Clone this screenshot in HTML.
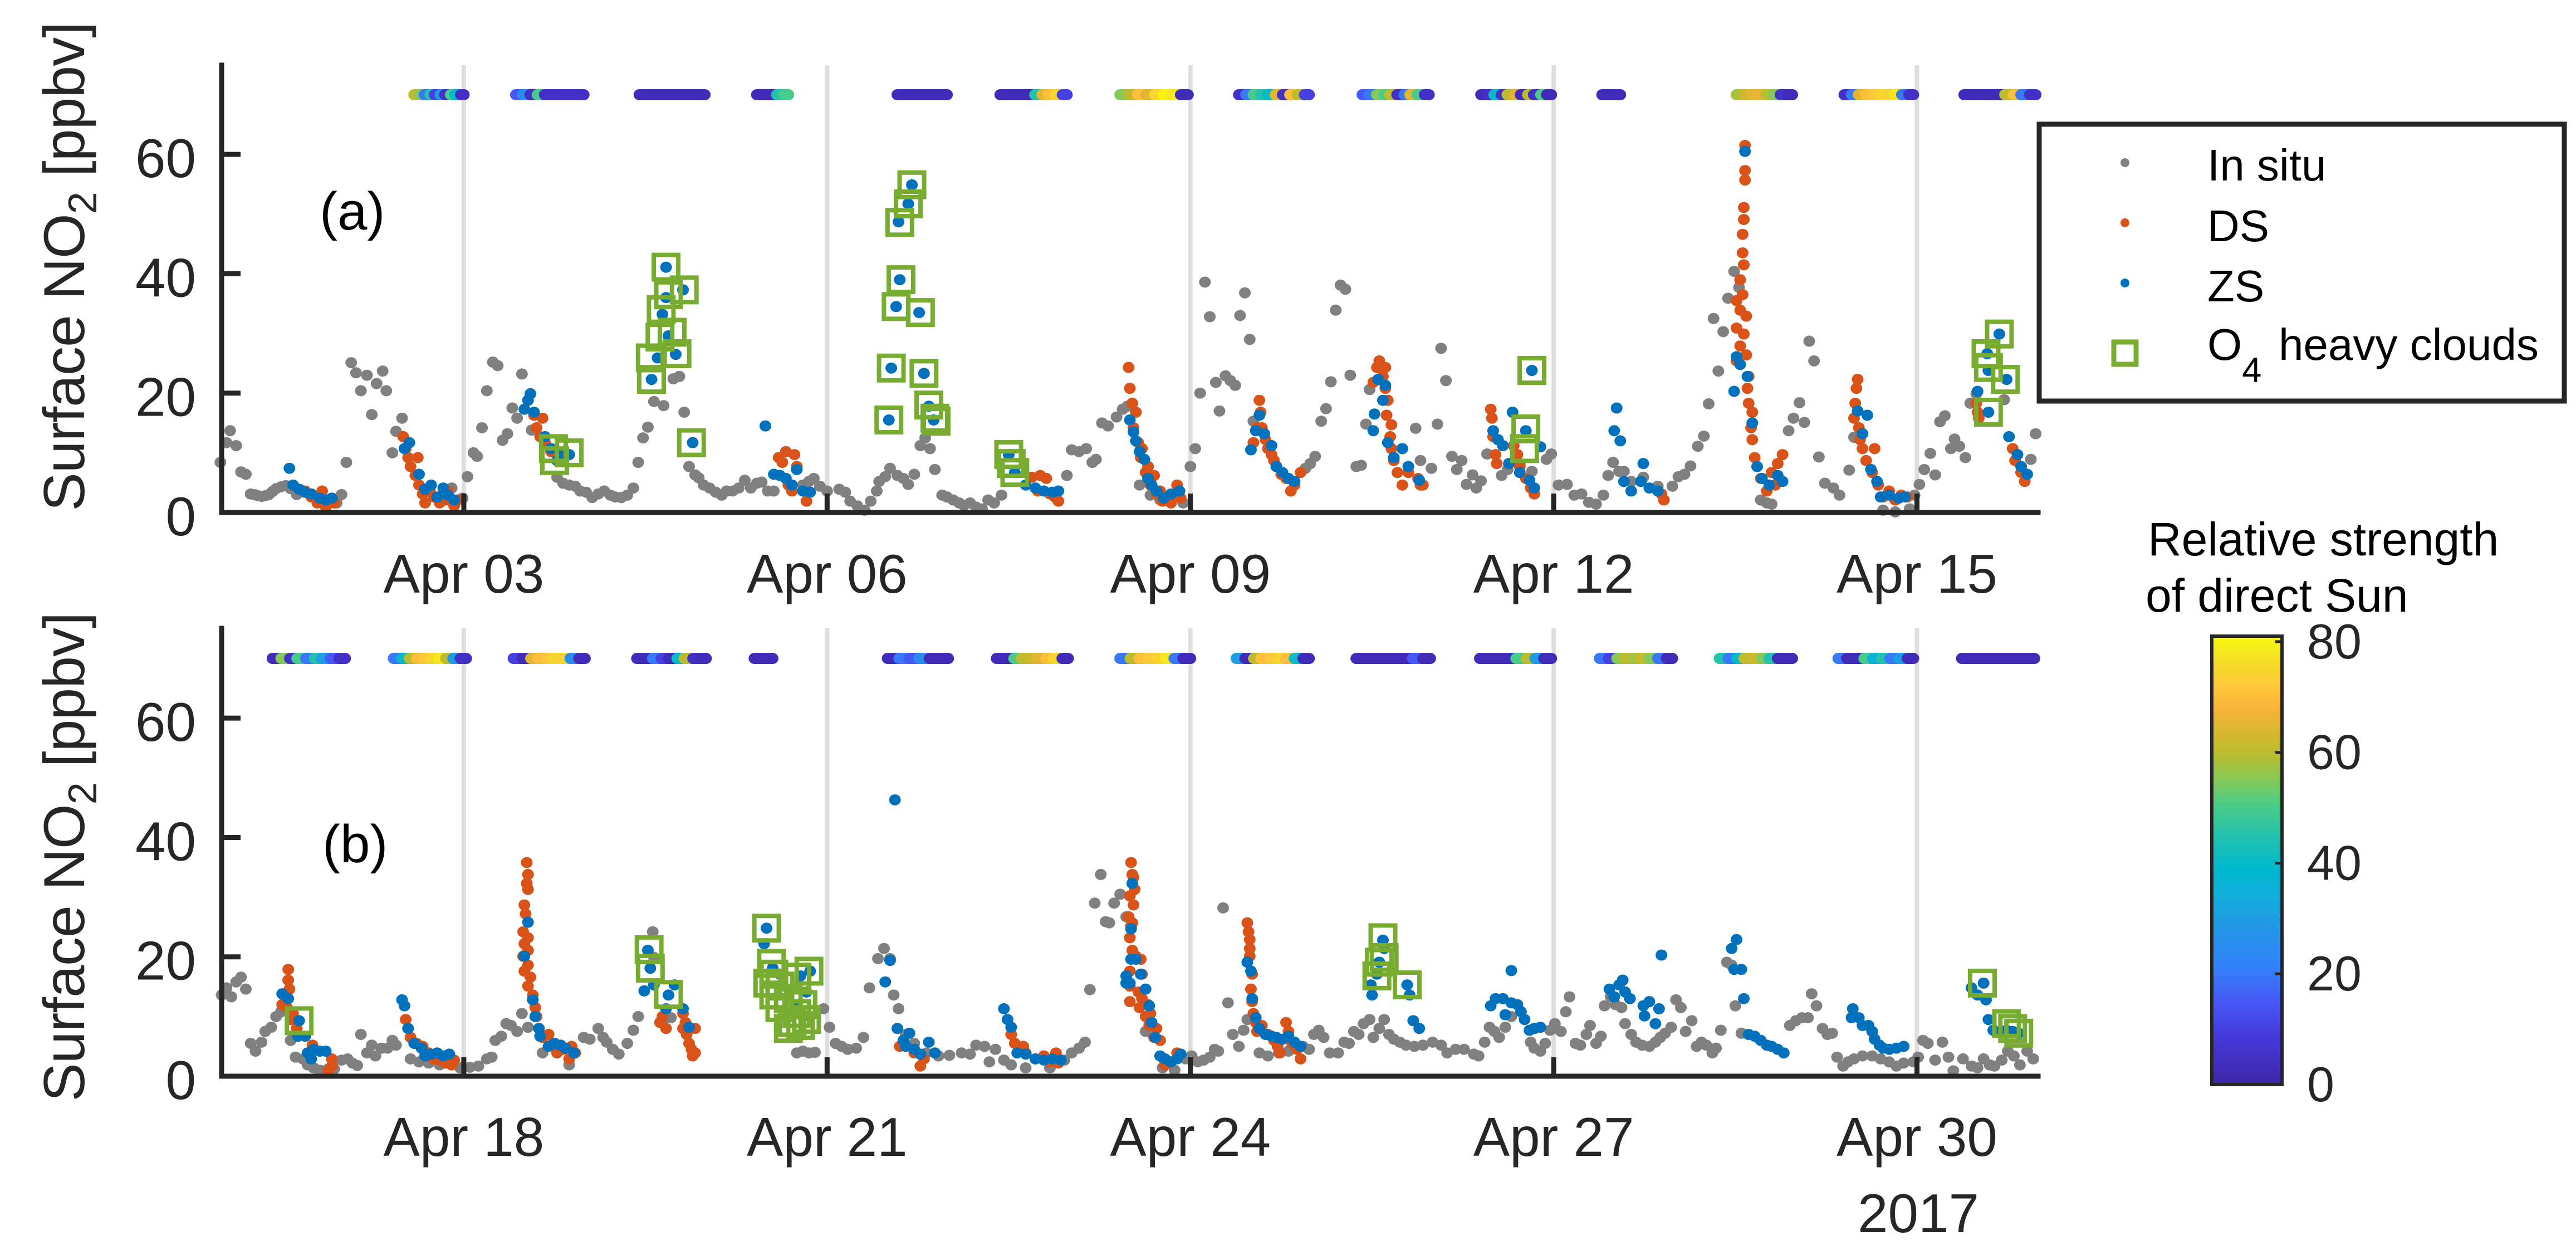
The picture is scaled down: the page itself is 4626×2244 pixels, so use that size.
<!DOCTYPE html>
<html><head><meta charset="utf-8"><style>
html,body{margin:0;padding:0;background:#fff;}
svg{display:block;font-family:"Liberation Sans",Arial,sans-serif;}
</style></head><body>
<svg id="chart" xmlns="http://www.w3.org/2000/svg" width="4626" height="2244" viewBox="0 0 4626 2244">
<rect width="4626" height="2244" fill="#fff"/>
<g id="gridA"></g>
<g id="gridB"></g>
<g id="marksA"></g>
<g id="marksB"></g>
<g id="axesA"></g>
<g id="axesB"></g>
<text transform="translate(151,40) rotate(-90)" text-anchor="end" font-size="104" letter-spacing="-1" fill="#262626">Surface NO<tspan font-size="72" dy="22">2</tspan><tspan dy="-22"> [ppbv]</tspan></text>
<text transform="translate(151,1100) rotate(-90)" text-anchor="end" font-size="104" letter-spacing="-1" fill="#262626">Surface NO<tspan font-size="72" dy="22">2</tspan><tspan dy="-22"> [ppbv]</tspan></text>
<text x="574" y="412" font-size="96" fill="#000">(a)</text>
<text x="579" y="1548" font-size="96" fill="#000">(b)</text>
<text x="3445" y="2212" text-anchor="middle" font-size="98" fill="#262626">2017</text>
<g>
<rect x="3662" y="223" width="943" height="497" fill="#fff" stroke="#262626" stroke-width="9"/>
<circle cx="3816" cy="292" r="8" fill="#808080"/>
<text x="3964" y="324" font-size="80" fill="#000">In situ</text>
<circle cx="3816" cy="400" r="8" fill="#D95319"/>
<text x="3964" y="433" font-size="80" fill="#000">DS</text>
<circle cx="3816" cy="508" r="8" fill="#0072BD"/>
<text x="3964" y="541" font-size="80" fill="#000">ZS</text>
<rect x="3796" y="614" width="40" height="40" fill="none" stroke="#77AC30" stroke-width="9"/>
<text x="3964" y="646" font-size="80" fill="#000">O<tspan font-size="63" dy="40">4</tspan><tspan x="4092" dy="-40">heavy clouds</tspan></text>
</g>
<text x="3857" y="997" font-size="84" fill="#000">Relative strength</text>
<text x="3853" y="1098" font-size="84" fill="#000">of direct Sun</text>
<defs><linearGradient id="parula" x1="0" y1="1" x2="0" y2="0"></linearGradient></defs>
<g id="cbar"></g>
</svg>
<script>
// ---------- data ----------
const topTicks = ["Apr 03","Apr 06","Apr 09","Apr 12","Apr 15"];
const topTickDays = [3,6,9,12,15];
const botTicks = ["Apr 18","Apr 21","Apr 24","Apr 27","Apr 30"];
const botTickDays = [18,21,24,27,30];
const yTicks = [0,20,40,60];
const cbTicks = [0,20,40,60,80];

const inSituTop = [[0.99,8.4],[1.04,11.7],[1.07,13.7],[1.12,11.2],[1.16,6.8],[1.2,6.4],[1.24,3.1],[1.27,3],[1.3,2.8],[1.33,2.7],[1.36,2.8],[1.39,3],[1.42,3.5],[1.45,4],[1.49,4.3],[1.53,4.5],[1.57,4],[1.62,3],[1.95,1.6],[1.99,3],[2.03,8.4],[2.07,25.1],[2.11,23.4],[2.15,20.4],[2.2,23],[2.24,16.4],[2.28,21.6],[2.33,23.7],[2.36,20.4],[2.41,10],[2.44,13.6],[2.49,15.8],[2.9,4.1],[2.99,2.4],[3.03,6],[3.08,10],[3.11,9.4],[3.15,14.2],[3.19,20.4],[3.24,25.2],[3.28,24.6],[3.32,12.1],[3.36,13.2],[3.4,17.5],[3.44,15.8],[3.48,23.2],[3.56,13.8],[3.77,5.9],[3.82,4.9],[3.87,4.6],[3.92,4.4],[3.96,3.6],[4.01,3.4],[4.06,2.5],[4.11,3.1],[4.16,3.6],[4.21,2.9],[4.25,2.6],[4.3,2.5],[4.35,2.9],[4.4,4.1],[4.44,8.4],[4.48,12.5],[4.52,14.3],[4.57,18.6],[4.65,17.9],[4.73,22.4],[4.78,22.8],[4.82,16.8],[4.86,7.7],[4.91,6.3],[4.94,5.8],[4.98,4.6],[5.03,4.1],[5.08,3.4],[5.13,2.9],[5.17,3.6],[5.22,3.6],[5.27,4.1],[5.32,5.4],[5.37,4.1],[5.42,4.9],[5.46,5.1],[5.51,3.6],[5.56,3.6],[5.8,4.6],[5.85,5.2],[5.89,5.7],[5.94,4.4],[6.0,3.6],[6.1,3.9],[6.15,3.4],[6.19,1.9],[6.25,1.1],[6.31,0.4],[6.36,1.9],[6.41,3.6],[6.43,5.2],[6.48,6],[6.52,7.4],[6.58,6.2],[6.63,5.7],[6.67,4.7],[6.72,6.4],[6.77,11.2],[6.81,12.5],[6.85,10.7],[6.89,7.2],[6.95,2.9],[6.99,2.6],[7.04,2.1],[7.09,1.6],[7.13,1.2],[7.18,1.6],[7.23,0.9],[7.28,0.6],[7.33,2.1],[7.38,1.6],[7.44,2.9],[7.98,6.2],[8.02,10.5],[8.08,10.2],[8.14,10.7],[8.19,8.4],[8.22,8.9],[8.27,15],[8.32,14.5],[8.39,16],[8.44,17.3],[8.48,17.8],[8.58,4.6],[8.67,2.9],[8.75,2.1],[8.94,1.6],[9.0,7.7],[9.04,10.7],[9.08,20],[9.12,38.6],[9.16,32.8],[9.21,21.8],[9.24,17],[9.29,22.9],[9.33,22.1],[9.37,21.3],[9.41,33],[9.45,36.8],[9.49,29],[9.52,15.3],[9.95,7.4],[9.99,8.2],[10.03,9.4],[10.08,15.3],[10.12,17.4],[10.16,21.9],[10.2,33.9],[10.24,38.1],[10.28,37.4],[10.32,23],[10.37,7.7],[10.41,7.9],[10.45,14.8],[10.48,20.6],[10.86,14.1],[10.9,8.7],[10.99,7.4],[11.04,14.8],[11.07,27.5],[11.11,22.1],[11.16,9.4],[11.2,7.2],[11.24,8.7],[11.28,4.7],[11.33,6.3],[11.36,4.1],[11.4,5.3],[11.45,9.8],[11.57,6.2],[11.62,7.2],[11.72,8.2],[11.82,6.9],[11.94,8.9],[11.98,9.8],[12.04,4.6],[12.11,4.7],[12.17,2.9],[12.23,3.1],[12.29,1.7],[12.35,1.4],[12.41,2.9],[12.45,6.2],[12.49,8.4],[12.54,6.9],[12.58,6.9],[12.64,5.2],[12.74,5.9],[12.86,4.4],[12.98,4.4],[13.03,6],[13.08,6.4],[13.13,7.8],[13.19,11.1],[13.24,12.8],[13.28,18.2],[13.32,32.5],[13.36,23.7],[13.4,30.3],[13.44,35.9],[13.49,40.4],[13.53,37.7],[13.71,2.1],[13.76,1.6],[13.8,1.4],[13.94,13.7],[13.98,15.8],[14.03,18.4],[14.07,15.1],[14.11,28.7],[14.15,25.4],[14.19,9.3],[14.24,4.9],[14.31,4.1],[14.36,2.9],[14.44,7.1],[14.48,12.6],[14.72,0.4],[14.82,0.1],[14.94,0.6],[14.98,2.9],[15.02,4.7],[15.06,7.2],[15.11,9.9],[15.15,6.3],[15.19,15.2],[15.23,16.2],[15.28,10.7],[15.31,12.3],[15.35,11.1],[15.4,9.2],[15.44,18.3],[15.49,19.9],[15.72,18.9],[15.94,8.9],[15.98,13.2]];

const dsTop = [[1.69,3.6],[1.74,2.6],[1.79,1.6],[1.83,3.6],[1.86,0.9],[1.91,2.1],[1.93,1.6],[2.5,12.7],[2.52,10.7],[2.54,9.2],[2.56,7.7],[2.6,6.2],[2.62,9.2],[2.63,4.6],[2.66,3.1],[2.68,1.6],[2.72,3.6],[2.75,2.6],[2.8,1.6],[2.85,2.1],[2.87,3.6],[2.92,1.1],[2.95,2.1],[3.58,16.3],[3.6,14.2],[3.63,12.7],[3.65,15.8],[3.67,11.7],[3.72,10.2],[5.6,9.2],[5.63,8.4],[5.66,10.2],[5.73,9.7],[5.68,4.6],[5.75,7.7],[5.8,3.6],[5.83,1.9],[5.71,3.6],[7.69,5.9],[7.76,6.2],[7.81,5.7],[7.84,3.1],[7.88,2.6],[7.91,1.9],[7.74,3.6],[8.49,24.3],[8.5,20.8],[8.52,18.3],[8.53,14.2],[8.55,16.8],[8.57,11.7],[8.59,9.2],[8.6,10.7],[8.63,6.7],[8.65,7.7],[8.67,4.6],[8.7,6.2],[8.72,3.1],[8.75,3.6],[8.77,1.9],[8.79,2.6],[8.84,1.6],[8.89,4.6],[8.92,2.4],[9.57,18.8],[9.58,16.8],[9.55,14.2],[9.52,11.7],[9.59,14.2],[9.62,12.2],[9.64,10.7],[9.67,9.7],[9.69,8.7],[9.71,7.7],[9.75,6.4],[9.79,5.7],[9.83,3.6],[9.86,4.6],[9.91,6.7],[10.54,24.3],[10.56,25.4],[10.61,24.3],[10.51,21.8],[10.59,22.8],[10.61,20.8],[10.63,18.8],[10.62,16.3],[10.66,14.7],[10.65,12.7],[10.66,10.7],[10.68,8.7],[10.71,6.7],[10.75,4.6],[10.8,6.7],[10.88,5.7],[10.9,4.6],[10.92,4.6],[11.48,17.3],[11.49,15.8],[11.5,12.7],[11.52,9.7],[11.53,8.2],[11.67,11.2],[11.7,9.7],[11.72,7.7],[11.77,5.7],[11.81,4.1],[11.84,3.1],[12.91,2.1],[12.89,3.1],[13.58,61.5],[13.58,57.3],[13.58,55.7],[13.57,51.1],[13.57,49.1],[13.56,46.6],[13.56,43.5],[13.57,41.5],[13.54,39],[13.56,36.5],[13.51,35.5],[13.54,33.9],[13.59,32.9],[13.51,30.9],[13.57,29.9],[13.54,27.9],[13.59,26.4],[13.51,25.4],[13.61,22.8],[13.6,20.8],[13.61,18.3],[13.64,16.8],[13.63,14.2],[13.64,12.2],[13.66,9.2],[13.71,5.7],[13.76,3.6],[13.8,6.7],[13.85,8.2],[13.89,9.7],[13.83,4.6],[14.51,22.3],[14.5,20.8],[14.49,18.3],[14.48,15.8],[14.52,14.2],[14.53,12.2],[14.55,10.7],[14.58,8.7],[14.63,6.7],[14.65,10.7],[14.68,4.6],[14.72,2.6],[14.77,3.6],[14.82,2.1],[14.87,2.9],[14.92,2.6],[15.5,16.8],[15.51,15.8],[15.49,18.3],[15.76,12.7],[15.79,10.7],[15.81,8.7],[15.86,6.7],[15.89,5.2]];

const zsTop = [[1.56,7.4],[1.59,4.6],[1.64,3.9],[1.69,3.4],[1.74,3.1],[1.81,2.4],[1.86,2.1],[1.91,2.4],[2.51,10.7],[2.55,11.7],[2.63,6.4],[2.68,3.9],[2.73,4.6],[2.78,2.6],[2.83,4.1],[2.87,2.9],[2.92,2.1],[3.5,17.3],[3.53,18.8],[3.55,19.9],[3.58,16.8],[3.67,12.7],[3.72,10.7],[3.77,8.7],[3.82,9.7],[3.87,9.7],[4.55,22.3],[4.6,25.9],[4.64,33.2],[4.69,29.6],[4.67,36],[4.81,37.3],[4.75,26.5],[4.67,41.1],[4.89,11.7],[5.49,14.5],[5.56,6.4],[5.61,6.2],[5.66,5.7],[5.71,4.6],[5.75,7.2],[5.8,3.6],[5.86,3.4],[6.51,15.5],[6.53,24.2],[6.57,34.5],[6.6,39],[6.59,48.7],[6.67,51.7],[6.7,54.9],[6.76,33.5],[6.8,23.3],[6.84,17.8],[6.88,15.5],[7.5,9.7],[7.55,6.7],[7.64,4.6],[7.72,4.1],[7.79,3.6],[7.86,3.4],[7.91,3.6],[8.5,15.5],[8.53,13.5],[8.55,12],[8.58,10.2],[8.62,8.9],[8.65,5.7],[8.68,4.6],[8.72,3.6],[8.78,2.4],[8.84,3.1],[8.91,3.6],[9.5,10.5],[9.54,13.7],[9.57,16.3],[9.61,13.2],[9.67,11.2],[9.71,7.7],[9.76,6.7],[9.81,5.7],[9.86,5.2],[10.51,13.7],[10.55,22.3],[10.59,18.8],[10.61,21.3],[10.52,16.5],[10.63,11.7],[10.68,9.2],[10.75,10.7],[10.8,7.7],[10.89,5.4],[11.5,13.7],[11.54,12.2],[11.58,11.2],[11.63,8.2],[11.66,16.8],[11.72,6.7],[11.77,13.7],[11.82,23.8],[11.89,11],[11.8,5.4],[11.84,4.1],[12.5,13.7],[12.52,17.5],[12.55,12],[12.58,5.2],[12.64,3.6],[12.72,5.2],[12.74,8.2],[12.79,4.1],[12.86,3.6],[13.58,60.5],[13.49,20.3],[13.51,26.1],[13.54,24.8],[13.6,22.8],[13.64,15],[13.68,7.7],[13.72,5.7],[13.78,4.6],[13.85,6.2],[13.89,5.2],[14.51,17],[14.59,16.3],[14.55,13.2],[14.62,7.2],[14.67,5.2],[14.7,2.6],[14.77,2.9],[14.85,2.4],[14.9,2.6],[15.5,20.3],[15.58,26.6],[15.68,29.9],[15.59,23.8],[15.74,22.3],[15.59,16.8],[15.76,12.7],[15.83,9.7],[15.86,7.7],[15.91,6.4]];

const o4Top = [[4.67,41.1],[4.82,37.3],[4.69,36.5],[4.63,34],[4.62,29.4],[4.72,30.2],[4.54,25.9],[4.76,26.6],[4.55,22.3],[4.88,11.7],[3.74,10.7],[3.87,10],[3.75,8.7],[6.7,54.9],[6.67,51.7],[6.6,48.6],[6.61,39],[6.57,34.5],[6.77,33.5],[6.53,24.2],[6.8,23.3],[6.84,18],[6.89,15.8],[6.51,15.5],[6.9,15.3],[7.5,9.7],[7.52,8.2],[7.55,6.7],[11.82,23.8],[11.77,14],[11.76,10.7],[15.68,29.9],[15.57,26.6],[15.59,24.3],[15.73,22.3],[15.59,16.8]];

const inSituBot = [[16,13.6],[16.04,14.8],[16.08,13.3],[16.12,15.8],[16.16,16.6],[16.2,14.6],[16.24,5.5],[16.28,4.2],[16.33,5.7],[16.36,7.5],[16.41,8.2],[16.45,10],[16.49,10.8],[16.57,6],[16.61,3.2],[16.67,2.9],[16.71,1.9],[16.76,1.4],[16.81,1],[16.88,1.2],[16.93,1.2],[16.99,2.7],[17.04,2.9],[17.08,2.2],[17.12,1.8],[17.15,7],[17.2,3.9],[17.24,5.2],[17.27,3.4],[17.32,4.7],[17.37,4.7],[17.41,6],[17.44,5.2],[17.56,2.9],[17.63,2.4],[17.71,2.2],[17.8,1.9],[17.9,1.9],[17.97,1.4],[18.05,1.5],[18.12,1.7],[18.19,2.9],[18.23,3.2],[18.26,6],[18.31,6.7],[18.35,8.8],[18.39,8.5],[18.44,7.5],[18.48,10.5],[18.53,8.2],[18.65,3.9],[18.87,1.9],[18.99,6.5],[19.04,6.2],[19.11,8],[19.15,6.5],[19.18,5.7],[19.23,4.5],[19.28,3.7],[19.35,5.5],[19.4,7.7],[19.44,10],[19.49,14.3],[19.56,24.2],[19.57,19.9],[19.64,9],[19.71,9.8],[20.75,3.9],[20.8,4.2],[20.85,3.9],[20.9,4],[20.97,11.3],[21.02,8.2],[21.07,5.5],[21.12,5],[21.17,4.5],[21.24,4.7],[21.3,6.5],[21.35,14.8],[21.42,19.7],[21.47,21.4],[21.52,19.7],[21.55,13.6],[21.59,11.3],[21.65,7],[21.72,5.5],[21.82,3.9],[21.92,3.4],[22.01,3.5],[22.11,3.9],[22.18,3.7],[22.23,5.2],[22.3,5],[22.34,2.4],[22.39,4.5],[22.46,2.7],[22.52,1.9],[22.64,1.4],[22.84,1.4],[22.96,2.7],[23.02,3.9],[23.08,4.7],[23.13,5.7],[23.17,14.5],[23.21,29],[23.26,33.8],[23.3,25.9],[23.33,25.7],[23.37,29],[23.42,30.5],[23.47,26.7],[23.63,7.5],[23.77,1.4],[23.87,1],[23.96,2.9],[24.01,3.4],[24.06,2.4],[24.11,2.7],[24.16,3.2],[24.2,4.5],[24.23,4.2],[24.27,28.2],[24.31,12.3],[24.35,7],[24.4,5],[24.44,7.7],[24.47,9.5],[24.57,3.9],[24.64,3.4],[24.73,3.9],[24.81,4.2],[24.93,5],[24.98,4.5],[25.02,7],[25.06,7.7],[25.1,6.5],[25.15,3.9],[25.22,3.9],[25.27,5.7],[25.31,5.5],[25.35,7.5],[25.39,7],[25.43,8.8],[25.48,9.5],[25.51,6.5],[25.56,8],[25.6,9.5],[25.64,7],[25.68,6.2],[25.73,5.7],[25.78,5.2],[25.85,5],[25.92,5.2],[26,5.7],[26.07,5.2],[26.12,3.9],[26.19,4.5],[26.26,4.5],[26.34,3.7],[26.38,3.4],[26.43,5.7],[26.47,8.2],[26.51,7.5],[26.55,6.5],[26.6,8.2],[26.65,10],[26.81,5.7],[26.84,4.7],[26.89,4.2],[26.93,5.5],[26.97,7.7],[27.01,8.8],[27.06,7.5],[27.1,10.8],[27.13,13.3],[27.18,5.5],[27.22,5.2],[27.27,7],[27.3,8.5],[27.35,5.5],[27.39,6.7],[27.42,11.8],[27.47,13.3],[27.51,12],[27.56,11.5],[27.59,8.8],[27.64,7],[27.68,5.7],[27.73,5.2],[27.79,5],[27.84,5.7],[27.88,6.5],[27.92,7.2],[27.97,8.2],[28.01,12.8],[28.05,11.5],[28.09,7.5],[28.14,9.3],[28.18,5],[28.22,5.7],[28.26,5.2],[28.31,3.9],[28.34,4.7],[28.38,7.7],[28.43,19.1],[28.47,18.6],[28.5,11.8],[28.55,7.2],[28.95,8.5],[29,9.3],[29.05,9.8],[29.1,9.8],[29.13,13.8],[29.17,11.8],[29.22,8],[29.26,7],[29.3,7.2],[29.34,3.2],[29.39,1.7],[29.43,2.4],[29.48,2.9],[29.55,3.4],[29.63,3.4],[29.7,2.9],[29.77,2.4],[29.83,1.7],[29.89,2.2],[29.97,2.4],[30.01,3.2],[30.05,6],[30.09,5.5],[30.15,2.7],[30.21,5.7],[30.26,3.2],[30.3,0.9],[30.38,2.9],[30.45,1.7],[30.5,1.4],[30.55,2.9],[30.6,1.9],[30.64,1.7],[30.7,2.7],[30.75,4.2],[30.8,3.4],[30.85,1.9],[30.91,4.2],[30.96,2.9]];

const dsBot = [[16.55,17.9],[16.55,16.1],[16.56,14.6],[16.53,13],[16.5,12],[16.54,11.5],[16.59,10.5],[16.57,9.5],[16.62,8],[16.75,5.2],[16.76,4.5],[16.91,2.9],[16.91,1.7],[16.88,0.9],[17.52,9.5],[17.54,8],[17.56,6.5],[17.61,5.5],[17.66,5],[17.71,3.9],[17.75,2.9],[17.8,2.7],[17.85,2.2],[17.9,1.9],[17.92,2.7],[18.52,35.8],[18.53,33.8],[18.52,32.3],[18.53,31.3],[18.5,28.7],[18.51,27.2],[18.49,24.2],[18.53,23.2],[18.5,22.2],[18.53,21.1],[18.49,20.1],[18.53,18.6],[18.5,17.6],[18.55,16.6],[18.53,15.1],[18.57,13.6],[18.59,11.5],[18.6,10],[18.62,8],[18.65,6.5],[18.7,7],[18.72,5.2],[18.77,3.9],[18.82,4.5],[18.87,2.9],[18.89,5],[18.92,3.9],[19.62,9],[19.64,10],[19.67,8],[19.81,10.5],[19.83,9],[19.81,8],[19.84,7],[19.86,5.5],[19.88,4.5],[19.91,8],[19.89,3.4],[19.91,3.9],[21.6,5],[21.72,3.9],[21.77,1.7],[21.8,2.9],[22.52,7],[22.55,5.5],[22.62,5],[22.64,3.9],[22.72,2.9],[22.79,3.4],[22.84,2.4],[22.89,3.9],[22.91,2.2],[23.51,35.8],[23.52,33.8],[23.5,30.2],[23.49,26.7],[23.51,25.2],[23.53,33.3],[23.54,31.3],[23.53,28.7],[23.52,25.7],[23.5,23.2],[23.52,21.1],[23.55,20.1],[23.59,19.6],[23.5,17.6],[23.6,17.1],[23.5,15.1],[23.57,14.1],[23.5,12.5],[23.6,13],[23.65,12],[23.58,11.5],[23.67,10.5],[23.63,10],[23.66,8.5],[23.72,8],[23.7,6.5],[23.75,6],[23.78,2.9],[23.79,1.9],[23.84,2.4],[23.89,3.9],[24.47,25.7],[24.48,24.2],[24.49,22.9],[24.49,21.4],[24.49,20.1],[24.51,17.1],[24.5,14.6],[24.51,12.5],[24.52,10.5],[24.54,9],[24.55,7.5],[24.59,8.5],[24.64,7],[24.69,6],[24.72,5],[24.74,3.9],[24.79,9],[24.81,7.5],[24.84,5.5],[24.88,4.5],[24.91,2.9]];

const zsBot = [[16.5,13.8],[16.55,13],[16.64,9.3],[16.63,6.7],[16.69,6.7],[16.71,3.9],[16.76,4.5],[16.81,4.2],[16.86,4.2],[16.74,2.9],[17.49,12.8],[17.51,11.8],[17.54,8],[17.59,5.5],[17.65,4.7],[17.68,3.4],[17.73,3.7],[17.78,3.9],[17.83,3.4],[17.88,3.7],[18.53,25.8],[18.5,20.1],[18.57,12.8],[18.59,10],[18.62,8],[18.63,6.7],[18.7,5],[18.75,5.5],[18.8,5.2],[18.84,4.7],[18.91,3.9],[19.52,21.1],[19.54,18.1],[19.49,14.3],[19.57,15.3],[19.69,13.6],[19.67,11.3],[19.74,15.3],[19.81,11.3],[19.86,8.2],[20.5,24.8],[20.48,22.2],[20.55,18.1],[20.61,17.1],[20.71,14.6],[20.78,16.8],[20.83,14.1],[20.86,17.6],[20.75,11.5],[20.8,10],[21.56,46.3],[21.48,15.8],[21.52,19.4],[21.58,8],[21.63,6],[21.68,7.2],[21.65,5],[21.72,4.5],[21.77,3.7],[21.84,5.7],[21.89,3.9],[22.46,11.3],[22.49,9.5],[22.52,8.2],[22.57,3.9],[22.64,3.7],[22.72,2.9],[22.79,2.7],[22.86,2.9],[22.93,2.7],[23.52,32.3],[23.51,24.7],[23.51,19.6],[23.47,16.8],[23.47,15.6],[23.55,19.6],[23.59,17.1],[23.5,15.6],[23.63,14.6],[23.66,11.8],[23.68,9],[23.71,6.5],[23.75,3.4],[23.79,2.9],[23.84,2.4],[23.89,2.9],[23.92,3.7],[24.47,19.1],[24.5,17.6],[24.51,13],[24.54,9.8],[24.57,8],[24.62,7],[24.67,6.7],[24.71,6.5],[24.76,6.2],[24.81,6.7],[24.86,5.7],[24.91,5],[25.59,22.8],[25.6,21.4],[25.56,19.1],[25.54,17.1],[25.5,13.6],[25.49,15.3],[25.79,15.3],[25.81,13.6],[25.84,9.3],[25.89,8],[26.48,11.8],[26.52,13],[26.58,13],[26.6,10.3],[26.65,17.7],[26.65,12.3],[26.7,12],[26.73,10.8],[26.76,9.5],[26.8,7.7],[26.84,8],[26.89,8.2],[27.46,14.6],[27.5,13.3],[27.54,15.3],[27.57,16.1],[27.59,14.1],[27.63,13],[27.74,11.8],[27.79,12.5],[27.75,10.1],[27.84,8.8],[27.87,11.3],[27.89,20.3],[28.47,21.4],[28.51,22.9],[28.49,17.9],[28.55,17.9],[28.57,13],[28.61,7],[28.66,6.7],[28.71,6],[28.76,5.2],[28.8,5],[28.85,4.5],[28.9,3.9],[29.47,11.3],[29.46,9.8],[29.52,9.8],[29.55,8.5],[29.6,8.5],[29.63,7.5],[29.65,6.2],[29.69,5.2],[29.72,4.7],[29.77,4.5],[29.83,4.7],[29.89,5],[30.45,14.8],[30.55,15.6],[30.5,13.6],[30.57,12.8],[30.59,9.5],[30.63,7.7],[30.69,7.5],[30.74,7.7],[30.79,7.5],[30.84,7.2]];

const o4Bot = [[16.64,9.3],[19.53,21.2],[19.54,18.1],[19.69,13.7],[20.5,24.8],[20.54,18.9],[20.56,17.1],[20.85,17.6],[20.51,15.6],[20.61,15.1],[20.75,16.6],[20.56,13.6],[20.68,13],[20.8,12],[20.61,11.5],[20.75,10.5],[20.83,9.5],[20.71,9],[20.68,8],[20.78,8.5],[25.59,23.2],[25.6,19.9],[25.56,19.1],[25.54,16.8],[25.79,15.3],[30.54,15.6],[30.74,8.8],[30.79,8],[30.84,7.2]];

// direct-sun strength strips: [startDay, endDay] and sampled values
const sunSegTop = [[2.59,3.0],[3.43,3.99],[4.45,4.99],[5.42,5.68],[6.58,6.99],[7.43,7.98],[8.42,8.98],[9.4,9.98],[10.42,10.97],[11.4,11.98],[12.4,12.55],[13.51,13.97],[14.4,14.97],[15.39,15.98]];
const sunValTop = [[60,55,20,45,10,30,5,50,40,5],[15,25,5,50,5,5,5,5,5,5],[3,3,3,3],[3,3,3,45,50],[3,3,3],[3,3,3,3,3,45,65,70,75,10],[55,60,70,65,75,80,78,3],[5,20,50,45,40,65,5,70,60,10],[15,20,55,50,60,5,20,65,50,5],[3,5,40,5,60,65,3,60,5,50,3],[3,3,3],[58,62,65,66,60,55,5,3],[5,20,65,70,72,75,74,78,20,5],[3,3,3,3,3,60,70,20,5]];
const sunSegBot = [[16.42,17.02],[17.42,18.02],[18.41,19.0],[19.43,20.0],[20.4,20.55],[21.5,22.0],[22.4,22.99],[23.42,24.0],[24.38,24.98],[25.37,25.98],[26.39,26.98],[27.38,27.98],[28.37,28.97],[29.35,29.97],[30.37,30.97]];
const sunValBot = [[3,55,5,50,20,45,30,15,5],[20,40,60,70,72,75,78,60,30,5],[10,3,65,70,72,75,74,25,3],[3,3,20,10,3,40,60,5,3],[3,3],[3,20,15,25,3,3],[3,3,50,60,62,65,70,75,3],[20,60,70,72,75,78,20,3],[30,3,60,70,72,75,70,40,3],[3,3,3,3,3,3,15,3],[3,3,3,3,50,60,30,3],[20,10,55,60,58,62,55,20,3],[45,20,40,60,62,55,45,3,3],[20,3,3,50,35,45,20,30,3],[3,3,3,3,3,3]];

// ---------- rendering ----------
const NS = "http://www.w3.org/2000/svg";
const X0 = 398, X1 = 3660, DAYPX = (X1 - X0) / 15;
const panels = {
  A: {d0: 1, yBase: 920, top: 117},
  B: {d0: 16, yBase: 1932, top: 1128}
};
const VPX = 10.714;
function xs(p, d){ return X0 + (d - p.d0) * DAYPX; }
function ys(p, v){ return p.yBase - v * VPX; }
const cmapStops = [[0,"#3e26a8"],[0.1,"#4637d8"],[0.18,"#4756f5"],[0.26,"#3480fa"],[0.35,"#2496e6"],[0.42,"#12aedc"],[0.48,"#00b8ce"],[0.55,"#22c0b0"],[0.62,"#48cc88"],[0.68,"#86ca58"],[0.74,"#bcbc2e"],[0.79,"#dab62e"],[0.84,"#fbb43a"],[0.89,"#ffc83a"],[0.94,"#f5dc28"],[1,"#f8fa10"]];
const CMAX = 81;
function hex2rgb(h){ return [parseInt(h.substr(1,2),16),parseInt(h.substr(3,2),16),parseInt(h.substr(5,2),16)]; }
function cmap(v){
  let t = Math.max(0, Math.min(1, v / CMAX));
  for (let i = 1; i < cmapStops.length; i++){
    if (t <= cmapStops[i][0]){
      const a = cmapStops[i-1], b = cmapStops[i];
      const f = (t - a[0]) / (b[0] - a[0]);
      const ca = hex2rgb(a[1]), cb = hex2rgb(b[1]);
      return "rgb(" + ca.map((c,k)=>Math.round(c + (cb[k]-c)*f)).join(",") + ")";
    }
  }
  return cmapStops[cmapStops.length-1][1];
}
function mk(tag, attrs, parent){
  const el = document.createElementNS(NS, tag);
  for (const k in attrs) el.setAttribute(k, attrs[k]);
  parent.appendChild(el);
  return el;
}

function drawGrid(p, g, days){
  days.forEach(d => {
    const el = mk("line", {x1: xs(p,d), x2: xs(p,d), y1: p.top, y2: p.yBase, stroke: "#dedede", "stroke-width": 8}, g);
    
    
  });
}
function drawDots(p, g, arr, color, name){
  arr.forEach(pt => {
    const el = mk("ellipse", {cx: xs(p,pt[0]), cy: ys(p,pt[1]), rx: 10.5, ry: 10, fill: color}, g);
    
    
  });
}
function drawSquares(p, g, arr){
  arr.forEach(pt => {
    const el = mk("rect", {x: xs(p,pt[0]) - 22, y: ys(p,pt[1]) - 22, width: 44, height: 44, fill: "none", stroke: "#77AC30", "stroke-width": 8}, g);
    
    
  });
}
function drawStrip(p, g, segs, vals){
  segs.forEach((s, i) => {
    const v = vals[i];
    const n = Math.max(2, Math.round((s[1]-s[0]) / 0.012));
    for (let k = 0; k <= n; k++){
      const d = s[0] + (s[1]-s[0]) * k / n;
      const idx = Math.min(v.length-1, Math.floor(k / (n+1) * v.length));
      const el = mk("ellipse", {cx: xs(p,d), cy: ys(p,70), rx: 10.5, ry: 10, fill: cmap(v[idx])}, g);
      
      
    }
  });
}
function drawAxes(p, g, tickDays, tickLabels, lblY){
  const ax = mk("path", {d: "M"+X0+","+p.top+" V"+p.yBase+" H"+X1, fill: "none", stroke: "#262626", "stroke-width": 9, "stroke-linecap": "square"}, g);
  
  
  yTicks.forEach(t => {
    const y = ys(p,t);
    const tk = mk("line", {x1: X0, x2: X0+34, y1: y, y2: y, stroke: "#262626", "stroke-width": 9}, g);
    
    
    const tx = mk("text", {x: 352, y: y + 41, "text-anchor": "end", "font-size": 98, fill: "#262626"}, g);
    tx.textContent = String(t);
    
    
  });
  tickDays.forEach((d, i) => {
    const x = xs(p,d);
    const tk = mk("line", {x1: x, x2: x, y1: p.yBase, y2: p.yBase-34, stroke: "#262626", "stroke-width": 9}, g);
    
    
    const tx = mk("text", {x: x, y: lblY, "text-anchor": "middle", "font-size": 98, fill: "#262626"}, g);
    tx.textContent = tickLabels[i];
    
    
  });
}

const gA = document.getElementById("gridA"), gB = document.getElementById("gridB");
drawGrid(panels.A, gA, topTickDays);
drawGrid(panels.B, gB, botTickDays);
const mA = document.getElementById("marksA"), mB = document.getElementById("marksB");
drawDots(panels.A, mA, inSituTop, "#808080", "insitu-point");
drawDots(panels.A, mA, dsTop, "#D95319", "ds-point");
drawDots(panels.A, mA, zsTop, "#0072BD", "zs-point");
drawSquares(panels.A, mA, o4Top);
drawStrip(panels.A, mA, sunSegTop, sunValTop);
drawDots(panels.B, mB, inSituBot, "#808080", "insitu-point");
drawDots(panels.B, mB, dsBot, "#D95319", "ds-point");
drawDots(panels.B, mB, zsBot, "#0072BD", "zs-point");
drawSquares(panels.B, mB, o4Bot);
drawStrip(panels.B, mB, sunSegBot, sunValBot);
drawAxes(panels.A, document.getElementById("axesA"), topTickDays, topTicks, 1064);
drawAxes(panels.B, document.getElementById("axesB"), botTickDays, botTicks, 2075);

// colorbar
const grad = document.getElementById("parula");
cmapStops.forEach(s => { mk("stop", {offset: s[0], "stop-color": s[1]}, grad); });
const cb = document.getElementById("cbar");
const CB = {x0: 3972, x1: 4098, yTop: 1142, y0: 1947};
function cby(v){ return CB.y0 - (CB.y0 - CB.yTop) * v / CMAX; }
const cbRect = mk("rect", {x: CB.x0, y: CB.yTop, width: CB.x1-CB.x0, height: CB.y0-CB.yTop, fill: "url(#parula)", stroke: "#262626", "stroke-width": 6}, cb);


cbTicks.forEach(t => {
  const y = cby(t);
  const tk = mk("line", {x1: CB.x1-12, x2: CB.x1, y1: y, y2: y, stroke: "#262626", "stroke-width": 5}, cb);
  
  
  const tx = mk("text", {x: 4143, y: y + 30, "font-size": 88, fill: "#262626"}, cb);
  tx.textContent = String(t);
  
  
});
</script>
</body></html>
